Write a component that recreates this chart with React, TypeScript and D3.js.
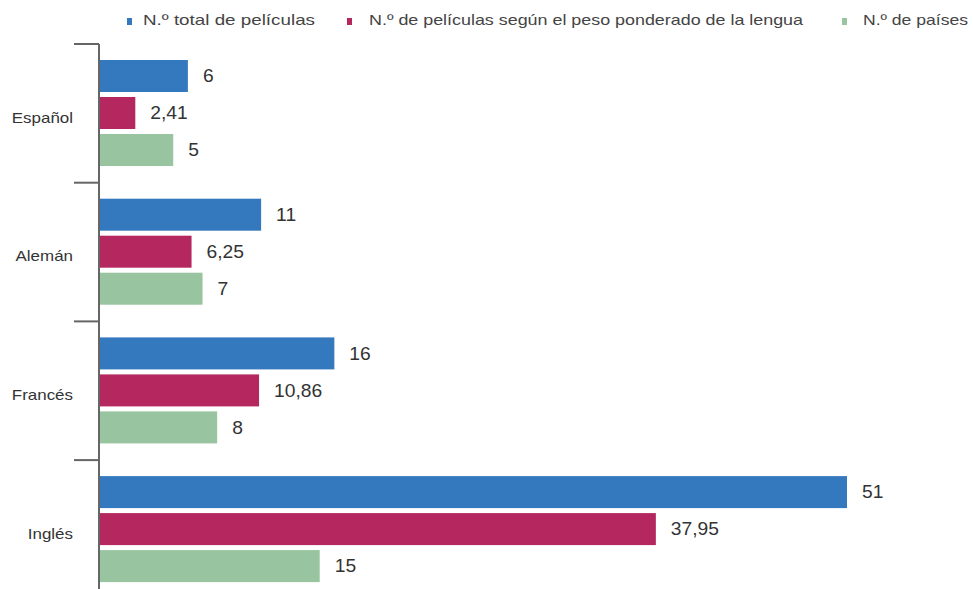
import React from "react";
import * as d3 from "d3";

const categories = ["Español", "Alemán", "Francés", "Inglés"];
const seriesNames = [
  "N.º total de películas",
  "N.º de películas según el peso ponderado de la lengua",
  "N.º de países",
];
const totalFilms = [6, 11, 16, 51];
const weightedFilms = [2.41, 6.25, 10.86, 37.95];
const countries = [5, 7, 8, 15];
const seriesValues = [totalFilms, weightedFilms, countries];
const seriesLabels = [
  ["6", "11", "16", "51"],
  ["2,41", "6,25", "10,86", "37,95"],
  ["5", "7", "8", "15"],
];
const colors = ["#3479bd", "#b5275f", "#98c49f"];

const W = 973;
const H = 589;

export default function App() {
  const x = d3.scaleLinear().domain([0, 51]).range([100, 847]);
  const y = d3.scaleBand<string>().domain(categories).range([44, 44 + 4 * 138.7]);
  const inner = d3
    .scaleBand<number>()
    .domain([0, 1, 2])
    .range([16, 16 + 106])
    .paddingInner(5 / 37);
  const font = "'Liberation Sans', Arial, Helvetica, sans-serif";
  const ticks = categories.map((c) => y(c)!);
  const legendX = [127, 347, 842];
  const legendTextX = [143, 369, 863];
  const legendTextW = [172, 434, 105];
  const sxVal = 1.1;
  const sxCat = 1.13;
  return (
    <svg
      width={W}
      height={H}
      style={{ position: "absolute", left: 0, top: 0, background: "#fff" }}
      fontFamily={font}
    >
      {/* legend */}
      {seriesNames.map((n, i) => (
        <g key={n}>
          <rect x={legendX[i]} y={18} width={5} height={7} fill={colors[i]} />
          <text
            x={legendTextX[i]}
            y={20}
            dy="0.35em"
            fontSize={15}
            fill="#444"
            textLength={legendTextW[i]}
            lengthAdjust="spacingAndGlyphs"
          >
            {n}
          </text>
        </g>
      ))}
      {/* bars */}
      {categories.map((c, ci) => (
        <g key={c}>
          {seriesValues.map((vals, si) => {
            const by = y(c)! + inner(si)!;
            const bh = inner.bandwidth();
            const lx = x(vals[ci]) + 15;
            const ly = by + bh / 2;
            return (
              <g key={si}>
                <rect
                  x={x(0)}
                  y={by}
                  width={x(vals[ci]) - x(0)}
                  height={bh}
                  fill={colors[si]}
                />
                <text
                  transform={`translate(${lx},${ly}) scale(${sxVal},1)`}
                  dy="0.35em"
                  fontSize={17.5}
                  fill="#333"
                >
                  {seriesLabels[si][ci]}
                </text>
              </g>
            );
          })}
          <text
            transform={`translate(73,${y(c)! + y.bandwidth() / 2 + 4}) scale(${sxCat},1)`}
            dy="0.35em"
            textAnchor="end"
            fontSize={15}
            fill="#333"
          >
            {c}
          </text>
        </g>
      ))}
      {/* axis */}
      <line x1={99} x2={99} y1={44} y2={H} stroke="#666" strokeWidth={2} />
      {ticks.map((t, i) => (
        <line key={i} x1={74} x2={99} y1={t} y2={t} stroke="#666" strokeWidth={2} />
      ))}
    </svg>
  );
}
